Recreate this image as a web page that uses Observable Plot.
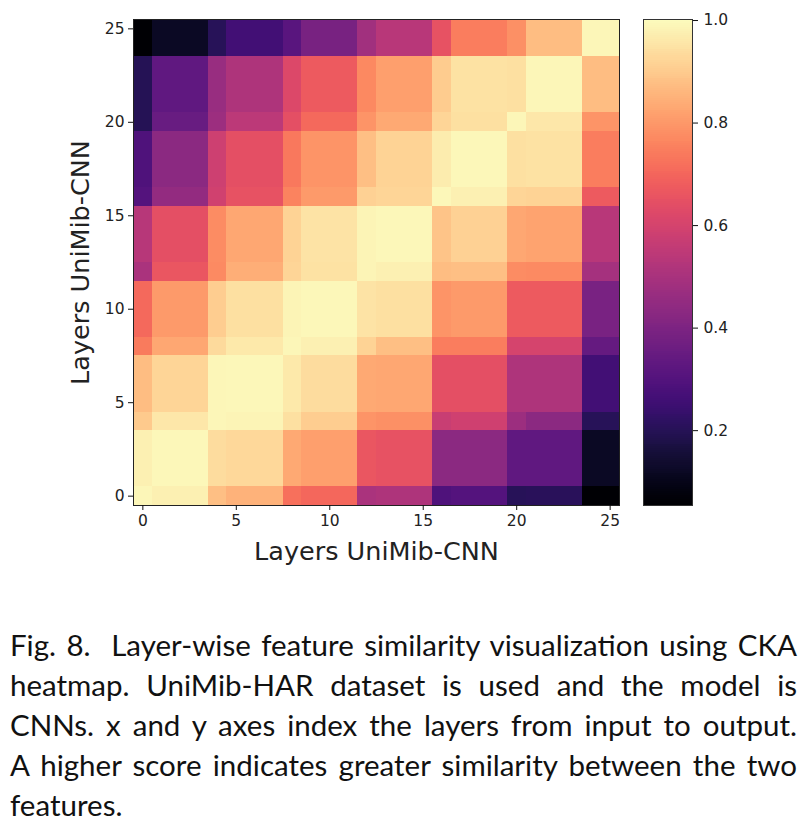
<!DOCTYPE html>
<html>
<head>
<meta charset="utf-8">
<script src="https://cdn.jsdelivr.net/npm/d3@7"></script>
<script src="https://cdn.jsdelivr.net/npm/@observablehq/plot@0.6"></script>
<style>
  html, body { margin: 0; padding: 0; background: #fff; }
  #page { position: relative; width: 800px; height: 823px; overflow: hidden; }
  #main, #bar { position: absolute; top: 0; }
  #main { left: 0; }
  #bar { left: 600px; }
  svg { display: block; }
  #caption { position: absolute; left: 10px; top: 625px; width: 787px;
    font-family: Lato, "Noto Sans", sans-serif; font-size: 29.5px; line-height: 40px; color: #111; }
  #caption div { text-align: justify; text-align-last: justify; white-space: nowrap; }
  #caption div:last-child { text-align-last: left; }
</style>
</head>
<body>
<div id="page">
  <div id="main"></div>
  <div id="bar"></div>
  <div id="caption"></div>
</div>
<script>
// Layers are grouped into blocks of equal similarity; edges in layer-index units.
const blockEdges = [-0.5, 0.5, 3.5, 4.5, 7.5, 8.5, 11.5, 12.5, 15.5, 16.5, 19.5, 20.5, 23.5, 25.5];

// Similarity rows, one per block from the bottom row (layer 0) upward.
const row00 = [0.985, 0.975, 0.875, 0.85, 0.72, 0.70, 0.50, 0.51, 0.29, 0.30, 0.20, 0.205, 0.055];
const row01 = [0.975, 0.99, 0.935, 0.925, 0.83, 0.81, 0.66, 0.65, 0.43, 0.43, 0.33, 0.33, 0.12];
const row02 = [0.895, 0.955, 0.985, 0.98, 0.94, 0.905, 0.79, 0.78, 0.57, 0.585, 0.47, 0.43, 0.20];
const row03 = [0.87, 0.92, 0.985, 0.99, 0.96, 0.935, 0.83, 0.825, 0.64, 0.64, 0.51, 0.51, 0.26];
const row04 = [0.74, 0.825, 0.93, 0.96, 0.985, 0.975, 0.915, 0.875, 0.745, 0.745, 0.60, 0.60, 0.34];
const row05 = [0.705, 0.80, 0.905, 0.94, 0.98, 0.99, 0.95, 0.94, 0.79, 0.80, 0.67, 0.67, 0.39];
const row06 = [0.50, 0.66, 0.77, 0.84, 0.92, 0.945, 0.98, 0.975, 0.87, 0.875, 0.775, 0.77, 0.49];
const row07 = [0.53, 0.64, 0.775, 0.825, 0.915, 0.95, 0.98, 0.99, 0.885, 0.91, 0.825, 0.82, 0.535];
const row08 = [0.30, 0.45, 0.59, 0.65, 0.755, 0.80, 0.91, 0.92, 0.99, 0.975, 0.92, 0.915, 0.67];
const row09 = [0.29, 0.43, 0.58, 0.64, 0.735, 0.79, 0.875, 0.915, 0.965, 0.99, 0.94, 0.945, 0.745];
const row10 = [0.195, 0.35, 0.47, 0.54, 0.64, 0.705, 0.79, 0.83, 0.92, 0.94, 0.985, 0.955, 0.79];
const row11 = [0.195, 0.33, 0.46, 0.51, 0.62, 0.67, 0.765, 0.81, 0.90, 0.945, 0.94, 0.985, 0.87];
const row12 = [0.055, 0.12, 0.20, 0.26, 0.31, 0.385, 0.48, 0.535, 0.65, 0.745, 0.78, 0.87, 0.985];
const similarityRows = [row00, row01, row02, row03, row04, row05, row06, row07, row08, row09, row10, row11, row12];

const layerTicks = [0, 5, 10, 15, 20, 25];
const barTicks = [0.2, 0.4, 0.6, 0.8, 1.0];
const colorDomain = [0.054, 1.002];
const axisTitle = "Layers UniMib-CNN";
const captionLines = [
  "Fig. 8.\u00a0\u00a0Layer-wise feature similarity visualization using CKA",
  "heatmap. UniMib-HAR dataset is used and the model is",
  "CNNs. x and y axes index the layers from input to output.",
  "A higher score indicates greater similarity between the two",
  "features."
];

const cells = similarityRows.flatMap((row, r) => row.map((value, c) => ({
  x1: blockEdges[c], x2: blockEdges[c + 1],
  y1: blockEdges[r], y2: blockEdges[r + 1],
  value
})));

const font = '"DejaVu Sans", sans-serif';
const color = { type: "linear", scheme: "magma", domain: colorDomain };

const main = Plot.plot({
  width: 640, height: 590,
  marginLeft: 133, marginRight: 21, marginTop: 19, marginBottom: 85,
  style: { fontFamily: font, background: "transparent", overflow: "visible" },
  x: { domain: [-0.5, 25.5], label: null },
  y: { domain: [-0.5, 25.5], label: null },
  color,
  marks: [
    Plot.rect(cells, { x1: "x1", x2: "x2", y1: "y1", y2: "y2", fill: "value", shapeRendering: "crispEdges" }),
    Plot.frame({ stroke: "#222", strokeWidth: 1 }),
    Plot.axisX({ ticks: layerTicks, tickSize: 5, tickPadding: 4, fontSize: 15.5, label: null, fill: "#222", stroke: "#111" }),
    Plot.axisY({ ticks: layerTicks, tickSize: 5, tickPadding: 4, fontSize: 15.5, label: null, fill: "#222", stroke: "#111" }),
    Plot.text([axisTitle], { frameAnchor: "bottom", dy: 54, fontSize: 25.5, fill: "#222" }),
    Plot.text([axisTitle], { frameAnchor: "left", dx: -53, rotate: -90, textAnchor: "middle", fontSize: 25.5, fill: "#222" })
  ]
});
document.getElementById("main").append(main);

// Colour bar: steps across the same colour domain.
const barSteps = d3.range(241).map(i => colorDomain[0] + (colorDomain[1] - colorDomain[0]) * i / 240);
const stepSize = (colorDomain[1] - colorDomain[0]) / 240;
const bar = Plot.plot({
  width: 200, height: 590,
  marginLeft: 43, marginRight: 108, marginTop: 19, marginBottom: 85,
  style: { fontFamily: font, background: "transparent", overflow: "visible" },
  x: { domain: [0, 1], axis: null },
  y: { domain: colorDomain, label: null },
  color,
  marks: [
    Plot.rect(barSteps, { x1: 0, x2: 1, y1: d => d, y2: d => Math.min(d + stepSize, colorDomain[1]), fill: d => d, shapeRendering: "crispEdges" }),
    Plot.frame({ stroke: "#333", strokeWidth: 1 }),
    Plot.axisY({ anchor: "right", ticks: barTicks, tickFormat: d3.format(".1f"), tickSize: 5, tickPadding: 6, fontSize: 15.5, label: null, fill: "#222", stroke: "#111" })
  ]
});
document.getElementById("bar").append(bar);

const cap = document.getElementById("caption");
captionLines.forEach(line => {
  const d = document.createElement("div");
  d.textContent = line;
  cap.append(d);
});
</script>
</body>
</html>
